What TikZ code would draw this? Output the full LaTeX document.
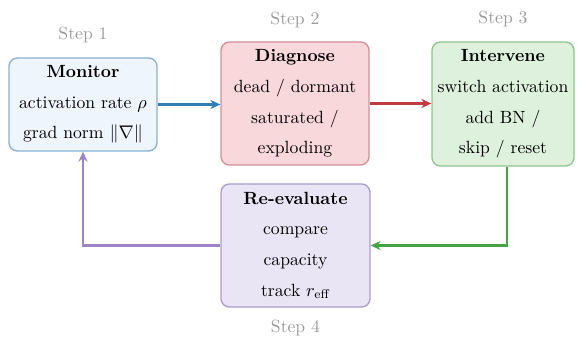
\documentclass[tikz,border=0pt]{standalone}
\usepackage{amsmath}
\usetikzlibrary{arrows.meta,positioning}

\definecolor{monfill}{HTML}{EEF5FC}
\definecolor{mondraw}{HTML}{8AAFD0}
\definecolor{diafill}{HTML}{F8D8DB}
\definecolor{diadraw}{HTML}{D28F96}
\definecolor{intfill}{HTML}{DDF1DC}
\definecolor{intdraw}{HTML}{8EC58E}
\definecolor{evafill}{HTML}{E9E5F4}
\definecolor{evadraw}{HTML}{AA9CCC}
\definecolor{arrblue}{HTML}{2F7EB5}
\definecolor{arrred}{HTML}{C23A3E}
\definecolor{arrgreen}{HTML}{45A545}
\definecolor{arrpurple}{HTML}{9E83C4}
\definecolor{steptext}{HTML}{9A9A9A}

\tikzset{
  stagebox/.style={draw, rounded corners=5pt, line width=0.8pt, align=center,
    minimum width=88.8pt, font=\fontsize{10.6}{18.4}\selectfont, inner sep=0pt},
  steplabel/.style={text=steptext, font=\fontsize{10.6}{12}\selectfont},
  flow/.style={line width=1.3pt, -{Stealth[length=6pt,width=5.5pt]}}
}

\begin{document}
\begin{tikzpicture}[x=0.6pt,y=-0.6pt]
  \useasboundingbox (0,0) rectangle (579,338);

  % the four stages of the loop
  \node[stagebox, fill=monfill, draw=mondraw, minimum height=55.8pt] (mon) at (83,104.5)
    {\textbf{Monitor}\\ activation rate $\rho$\\ grad norm $\|\nabla\|$};
  \node[stagebox, fill=diafill, draw=diadraw, minimum height=73.8pt] (dia) at (295,103.5)
    {\textbf{Diagnose}\\ dead / dormant\\ saturated /\\ exploding};
  \node[stagebox, fill=intfill, draw=intdraw, minimum width=85.2pt, minimum height=74.4pt] (int) at (503,104)
    {\textbf{Intervene}\\ switch activation\\ add BN /\\ skip / reset};
  \node[stagebox, fill=evafill, draw=evadraw, minimum width=89.4pt, minimum height=73.8pt] (eva) at (295.5,245.5)
    {\textbf{Re-evaluate}\\ compare\\ capacity\\ track $r_{\text{eff}}$};

  % step captions
  \node[steplabel] (s1) at (83,35) {Step 1};
  \node[steplabel] (s2) at (295,20) {Step 2};
  \node[steplabel] (s3) at (503,19) {Step 3};
  \node[steplabel] (s4) at (295.5,328) {Step 4};

  % connectors
  \coordinate (gcorner) at (507,245.5);
  \coordinate (pcorner) at (83,245.5);
  \draw[flow, arrblue] (mon.east) -- (dia.west |- mon.east);
  \draw[flow, arrred] (dia.east) -- (int.west |- dia.east);
  \draw[flow, arrgreen] (int.south -| gcorner) -- (gcorner) -- (eva.east);
  \draw[flow, arrpurple] (eva.west) -- (pcorner) -- (mon.south);
\end{tikzpicture}
\end{document}
